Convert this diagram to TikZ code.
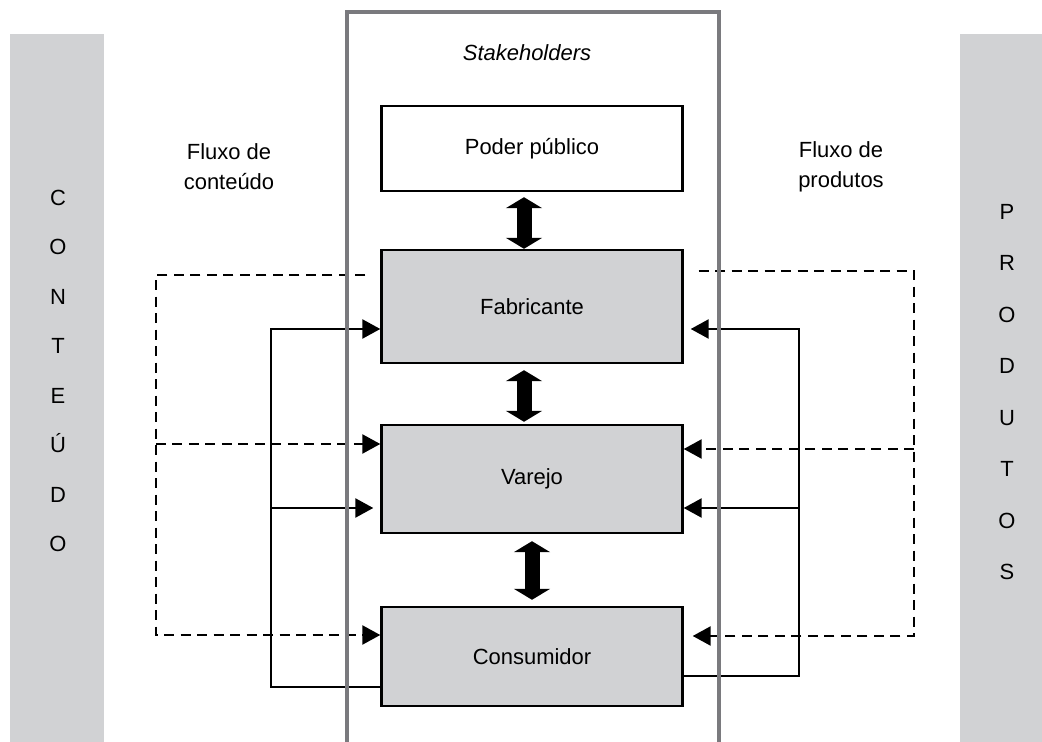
\documentclass[tikz,border=0pt]{standalone}
\usepackage{fontspec}
\setmainfont{Liberation Sans}
\usetikzlibrary{arrows.meta,calc,positioning}
\definecolor{boxgray}{RGB}{209,210,212}
\definecolor{framegray}{RGB}{122,122,126}

\begin{document}
\begin{tikzpicture}[x=0.02cm,y=-0.02cm,
    every node/.style={font=\fontsize{12.5}{17}\selectfont},
    actor/.style={draw,line width=1.4pt,minimum width=6.02cm,align=center},
    flow/.style={line width=1.4pt,-{Triangle[length=0.36cm,width=0.38cm]}},
    dflow/.style={flow,dash pattern=on 0.2cm off 0.13cm},
    link/.style={line width=0.3cm,{Triangle[length=0.22cm,width=0.72cm]}-{Triangle[length=0.22cm,width=0.72cm]}},
    letter/.style={anchor=base,inner sep=0pt}]
 \useasboundingbox (0,0) rectangle (1042,742);
 \fill[boxgray] (10,34) rectangle (104,745);
 \fill[boxgray] (960,34) rectangle (1045,745);
 \foreach \l [count=\i] in {C,O,N,T,E,Ú,D,O}
  \node[letter] (ct\i) at (58,{205.5+49.5*(\i-1)}) {\l};
 \foreach \l [count=\i] in {P,R,O,D,U,T,O,S}
  \node[letter] (pr\i) at (1007,{219.5+51.5*(\i-1)}) {\l};
 \node (stk) at (527,53) {\textit{Stakeholders}};
 \node[align=center] (fc) at (229,167) {Fluxo de\\conteúdo};
 \node[align=center] (fp) at (841,167) {Fluxo de\\produtos};
 \node[actor,minimum height=1.7cm] (poder) at (532,148.5) {Poder público};
 \node[actor,fill=boxgray,minimum height=2.26cm] (fab) at (532,306.5) {Fabricante};
 \node[actor,fill=boxgray,minimum height=2.16cm] (var) at (532,479) {Varejo};
 \node[actor,fill=boxgray,minimum height=1.98cm] (cons) at (532,656.5) {Consumidor};
 \draw[link,shorten <=0.1cm] ([xshift=-0.16cm]poder.south) -- ([xshift=-0.16cm]fab.north);
 \draw[link,shorten <=0.12cm,shorten >=0.04cm] ([xshift=-0.16cm]fab.south) -- ([xshift=-0.16cm]var.north);
 \draw[link,shorten <=0.14cm,shorten >=0.12cm] (var.south) -- (cons.north);
 \coordinate (dl) at (156,635);
 \coordinate (sl) at (271,329);
 \coordinate (sr) at (799,329);
 \coordinate (dr) at (914,636);
 \draw[dflow] ($(fab.west)+(-15,-31.5)$) -| (dl) -- (dl -| cons.west);
 \draw[dflow] (dl |- {$(var.west)+(0,-35)$}) -- ($(var.west)+(0,-35)$);
 \draw[flow] ($(cons.west)+(0,30.5)$) -| (sl) -- (sl -| fab.west);
 \draw[flow,shorten >=0.14cm] (sl |- {$(var.west)+(0,29)$}) -- ($(var.west)+(0,29)$);
 \draw[dflow,shorten >=0.18cm] ($(fab.east)+(15,-35.5)$) -| (dr) -- (dr -| cons.east);
 \draw[dflow] (dr |- {$(var.east)+(0,-30)$}) -- ($(var.east)+(0,-30)$);
 \draw[flow,shorten >=0.14cm] ($(cons.east)+(0,19.5)$) -| (sr) -- (sr -| fab.east);
 \draw[flow] (sr |- {$(var.east)+(0,29)$}) -- ($(var.east)+(0,29)$);
 \draw[framegray,line width=0.08cm] (347,745) |- (719,12) -- (719,745);
\end{tikzpicture}
\end{document}
